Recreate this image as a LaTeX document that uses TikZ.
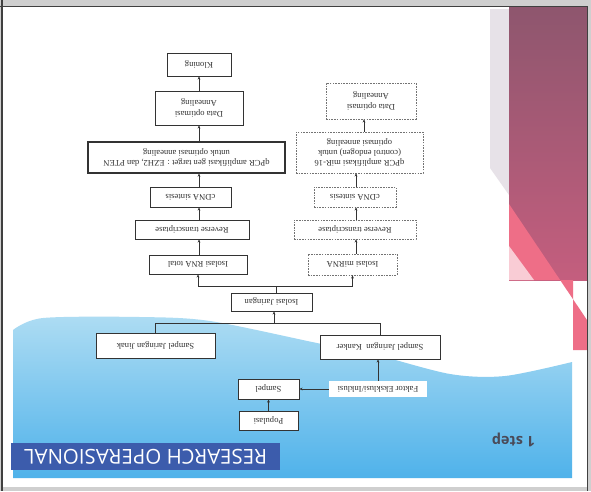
\documentclass[tikz,border=0pt]{standalone}
\usepackage{fontspec}
\setmainfont{Liberation Serif}
\newfontfamily\titlefont{Open Sans}
\usetikzlibrary{arrows.meta}
\usetikzlibrary{calc}

\definecolor{framegray}{HTML}{CFCFCF}
\definecolor{wavelight}{HTML}{ADDCF3}
\definecolor{wavedeep}{HTML}{4FB2EA}
\definecolor{titleblue}{HTML}{3C5CAC}
\definecolor{bandtop}{HTML}{8E566E}
\definecolor{bandlow}{HTML}{C45E7E}
\definecolor{bandpink}{HTML}{EE6E87}
\definecolor{bandmist}{HTML}{E7E2E8}
\definecolor{stepgray}{HTML}{4A4A58}

\tikzset{
  flowbox/.style={draw=black!80, line width=0.7pt, fill=white, text=black!80, align=center, inner sep=1pt, font=\fontsize{8.6}{10.4}\selectfont},
  dashbox/.style={flowbox, draw=black!55, dash pattern=on 1.6pt off 1.1pt, line width=0.6pt},
  flow/.style={-{Stealth[length=3.2pt, width=2.8pt]}, line width=0.7pt, black!80},
  link/.style={line width=0.7pt, black!80}
}

\begin{document}
\begin{tikzpicture}[x=1pt, y=-1pt]
  \useasboundingbox (0, 0) rectangle (591, 491);

  % the photographed slide, upside down
  \fill[framegray] (0, 0) rectangle (591, 491);
  \fill[white] (3, 7) rectangle (587, 487);
  \fill[bandmist] (490, 9) -- (509, 9) -- (509, 195) -- (490, 168) -- cycle;
  \shade[top color=bandtop, bottom color=bandlow] (509, 7) rectangle (587, 280);
  \fill[bandpink] (509, 204) -- (587, 320) -- (587, 350) -- (573, 350) -- (573, 280) -- (509, 280) -- cycle;
  \fill[bandpink!35] (509, 246) -- (534, 280) -- (509, 280) -- cycle;
  \shade[top color=wavelight, bottom color=wavedeep] plot[smooth] coordinates {(13, 330) (43, 318) (140, 317) (210, 321) (317, 343) (373, 354) (450, 374) (505, 376) (572, 362)} -- (572, 478) -- (13, 478) -- cycle;
  \draw[black!75, line width=1.6pt] (2, 0) -- (2, 491);
  \draw[black!75, line width=1.6pt] (0, 6.5) -- (587.5, 6.5) -- (587.5, 491);

  \begin{scope}[rotate around={180:(295.5, 245.5)}, transform shape]
    \node[fill=titleblue, text=white, minimum width=269pt, minimum height=27pt, font=\titlefont\fontsize{20.5}{24}\selectfont] (title) at (445.5, 34.5) {RESEARCH OPERASIONAL};
    \node[text=stepgray, font=\titlefont\bfseries\fontsize{14.5}{17}\selectfont] (step) at (77.5, 51.5) {1 step};

    \node[flowbox, minimum width=59pt, minimum height=19pt] (populasi) at (322.5, 70.5) {Populasi};
    \node[flowbox, minimum width=61pt, minimum height=20pt] (sampel) at (322.5, 102) {Sampel};
    \node[flowbox, draw=none, minimum width=98pt, minimum height=16pt] (faktor) at (213, 102) {Faktor Eksklusi/Inklusi};
    \node[flowbox, minimum width=120pt, minimum height=24pt] (kanker) at (211, 144) {Sampel Jaringan\ \ Kanker};
    \node[flowbox, minimum width=119pt, minimum height=25pt] (jinak) at (435.5, 145.5) {Sampel Jaringan Jinak};
    \node[flowbox, minimum width=81pt, minimum height=18pt] (jaringan) at (319.5, 189) {Isolasi Jaringan};

    \node[flowbox, minimum width=98pt, minimum height=19pt] (rnaL) at (393, 226.5) {Isolasi RNA total};
    \node[flowbox, minimum width=114pt, minimum height=19pt] (rtL) at (399, 261.5) {Reverse transcriptase};
    \node[flowbox, minimum width=81pt, minimum height=20pt] (cdnaL) at (400.5, 294) {cDNA sintesis};
    \node[flowbox, line width=1.1pt, minimum width=197pt, minimum height=31pt] (qpcrL) at (404.5, 333.5) {qPCR amplifikasi gen target : EZH2, dan PTEN\\untuk optimasi annealing};
    \node[flowbox, minimum width=88pt, minimum height=34pt] (dataL) at (392, 383) {Data optimasi\\Annealing};
    \node[flowbox, minimum width=64pt, minimum height=23pt] (kloning) at (392, 426.5) {Kloning};

    \node[dashbox, minimum width=89pt, minimum height=21pt] (mirna) at (238.5, 226.5) {Isolasi miRNA};
    \node[dashbox, minimum width=122pt, minimum height=19pt] (rtR) at (236, 261.5) {Reverse transcriptase};
    \node[dashbox, minimum width=82pt, minimum height=20pt] (cdnaR) at (236, 294) {cDNA sintesis};
    \node[dashbox, minimum width=127pt, minimum height=41pt] (qpcrR) at (231.5, 338.5) {qPCR amplifikasi miR-16\\(control endogen) untuk\\optimasi annealing};
    \node[dashbox, minimum width=90pt, minimum height=36pt] (dataR) at (220, 390) {Data optimasi\\Annealing};

    \coordinate (colL) at (392, 0);
    \coordinate (colR) at (235, 0);
    \coordinate (colRdata) at (227, 0);
    \coordinate (splitUp) at (315, 205);
    \coordinate (mergeDn) at (317, 168);

    \draw[flow] (populasi) -- (sampel);
    \draw[flow] (faktor) -- (sampel);
    \draw[flow] (faktor.south) -- (faktor.south |- kanker.north);
    \draw[link] (jinak) |- (mergeDn);
    \draw[link] (kanker) |- (mergeDn);
    \draw[flow] (mergeDn) -- (mergeDn |- jaringan.north);
    \draw[link] (jaringan.south -| splitUp) -- (splitUp);
    \draw[flow] (splitUp) -| (rnaL);
    \draw[flow] (splitUp) -| (mirna);
    \foreach \a/\b in {rnaL/rtL, rtL/cdnaL, cdnaL/qpcrL, qpcrL/dataL, dataL/kloning}
      \draw[flow] (\a.south -| colL) -- (\b.north -| colL);
    \foreach \a/\b in {mirna/rtR, rtR/cdnaR, cdnaR/qpcrR}
      \draw[flow] (\a.south -| colR) -- (\b.north -| colR);
    \draw[flow] (qpcrR.south -| colRdata) -- (dataR.north -| colRdata);
  \end{scope}
\end{tikzpicture}
\end{document}
